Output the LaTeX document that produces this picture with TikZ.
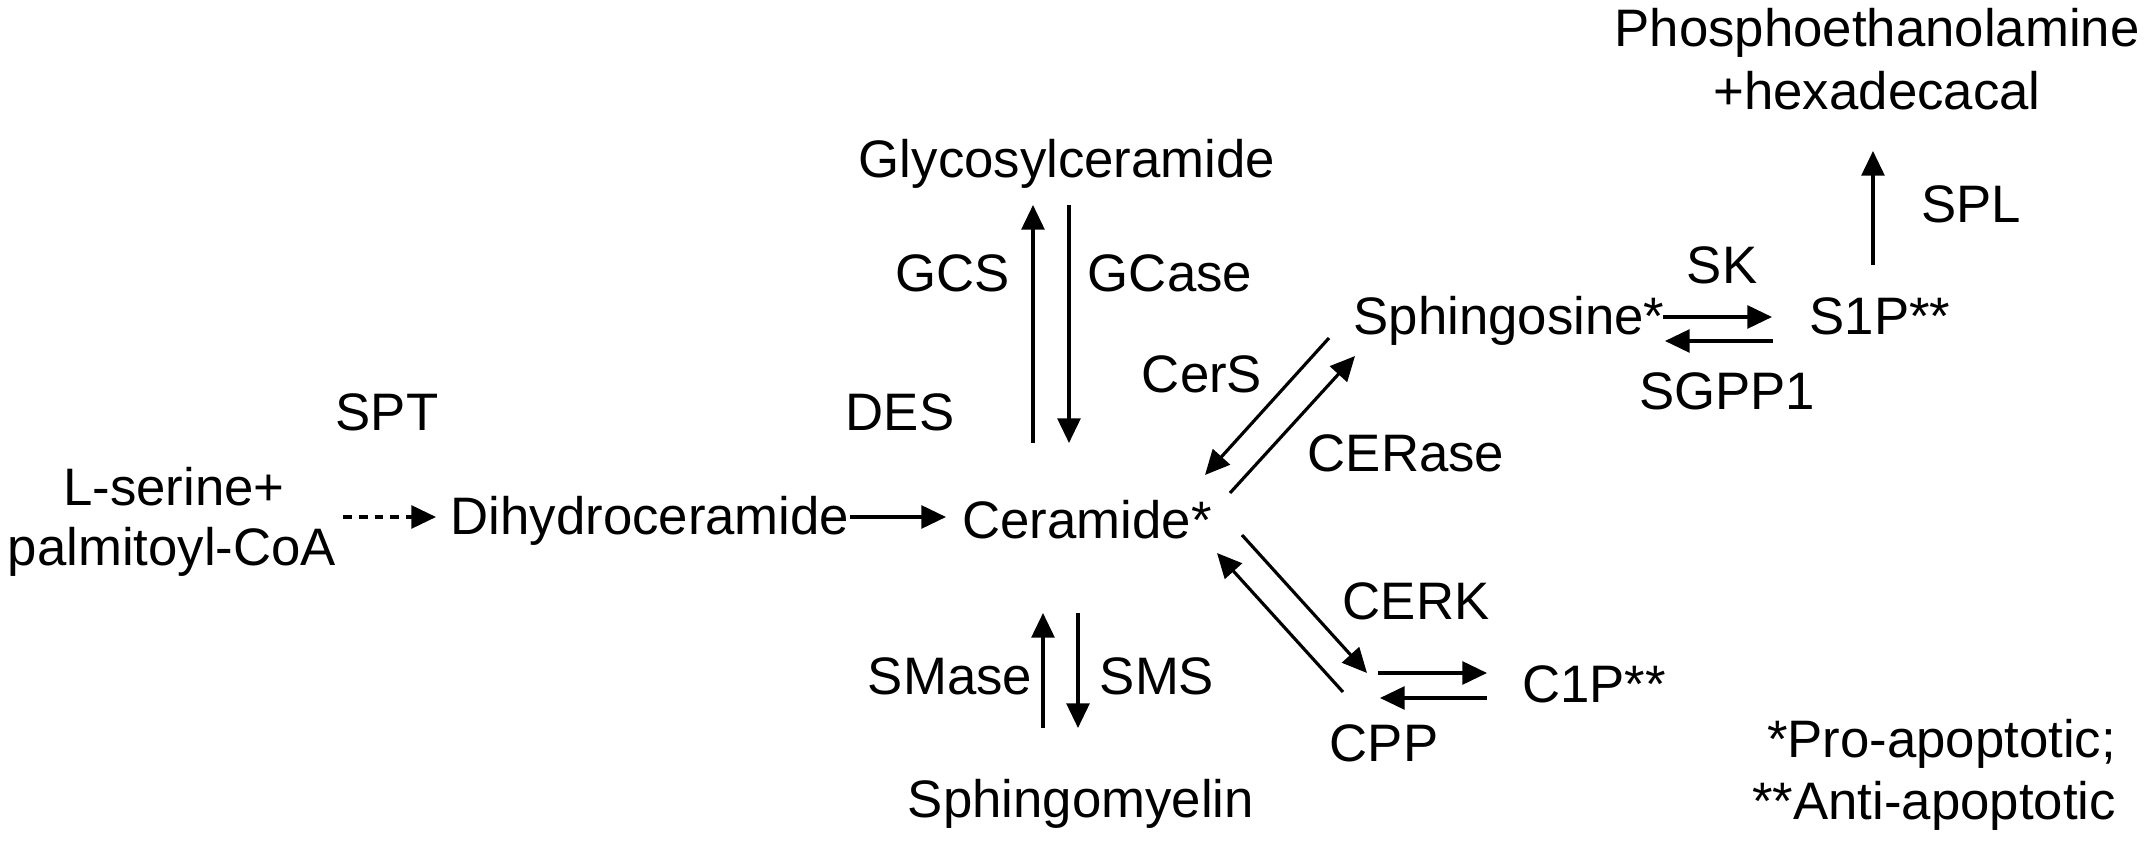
\documentclass[tikz,border=0pt]{standalone}
\usepackage{fontspec}
\setmainfont{Liberation Sans}
\usetikzlibrary{arrows.meta}
\tikzstyle{arrow} = [line width=0.9pt, -{Triangle[length=7pt, width=6.5pt]}]
\tikzstyle{dasharrow} = [arrow, dash pattern=on 2.5pt off 2pt]
\tikzstyle{metab} = [inner sep=0pt, outer sep=0pt, anchor=base, font=\fontsize{15}{18}\selectfont]
\tikzstyle{enzyme} = [metab]

\begin{document}
\begin{tikzpicture}[x=0.01cm, y=-0.01cm]
    \useasboundingbox (0,0) rectangle (2150,843);

    % de novo synthesis
    \node (ser) [metab] at (174,506) {L-serine+};
    \node (palm) [metab] at (172,566) {palmitoyl-CoA};
    \node (dhc) [metab] at (650,535) {Dihydroceramide};
    \node (cer) [metab] at (1087,539) {Ceramide*};
    \node (spt) [enzyme] at (387,431) {SPT};
    \node (des) [enzyme] at (900,431) {DES};

    % glycosylceramide branch
    \node (glyc) [metab] at (1067,178) {Glycosylceramide};
    \node (gcs) [enzyme] at (953,292) {GCS};
    \node (gcase) [enzyme] at (1170,292) {GCase};

    % sphingosine / S1P
    \node (sph) [metab] at (1509,335) {Sphingosine*};
    \node (s1p) [metab] at (1880,335) {S1P**};
    \node (phos) [metab] at (1877,47) {Phosphoethanolamine};
    \node (hexa) [metab] at (1877,110) {+hexadecacal};
    \node (cers) [enzyme] at (1202,393) {CerS};
    \node (cerase) [enzyme] at (1406,472) {CERase};
    \node (sk) [enzyme] at (1722,284) {SK};
    \node (sgpp) [enzyme] at (1727,410) {SGPP1};
    \node (spl) [enzyme] at (1971,223) {SPL};

    % C1P
    \node (c1p) [metab] at (1594,703) {C1P**};
    \node (cerk) [enzyme] at (1416,620) {CERK};
    \node (cpp) [enzyme] at (1384,762) {CPP};

    % sphingomyelin
    \node (smy) [metab] at (1081,818) {Sphingomyelin};
    \node (smase) [enzyme] at (950,695) {SMase};
    \node (sms) [enzyme] at (1157,695) {SMS};

    % legend
    \node (pro) [metab, anchor=base east] at (2116,758) {*Pro-apoptotic;};
    \node (anti) [metab, anchor=base east] at (2116,820) {**Anti-apoptotic};

    % reactions
    \draw [dasharrow] ([shift={(171,-49)}]palm.base) -- ([shift={(-214,-18)}]dhc.base);
    \draw [arrow] ([shift={(200,-18)}]dhc.base) -- ([shift={(-141,-22)}]cer.base);
    \draw [arrow] ([shift={(-54,-96)}]cer.base) -- ([shift={(-34,27)}]glyc.base);
    \draw [arrow] ([shift={(2,27)}]glyc.base) -- ([shift={(-18,-96)}]cer.base);
    \draw [arrow] ([shift={(-180,3)}]sph.base) -- ([shift={(118,-64)}]cer.base);
    \draw [arrow] ([shift={(143,-46)}]cer.base) -- ([shift={(-154,21)}]sph.base);
    \draw [arrow] ([shift={(154,-18)}]sph.base) -- ([shift={(-108,-18)}]s1p.base);
    \draw [arrow] ([shift={(-107,6)}]s1p.base) -- ([shift={(156,6)}]sph.base);
    \draw [arrow] ([shift={(-7,-70)}]s1p.base) -- ([shift={(-4,41)}]hexa.base);
    \draw [arrow] ([shift={(155,-4)}]cer.base) -- ([shift={(-227,-30)}]c1p.base);
    \draw [arrow] ([shift={(-251,-11)}]c1p.base) -- ([shift={(130,14)}]cer.base);
    \draw [arrow] ([shift={(-6,-89)}]cpp.base) -- ([shift={(-107,-30)}]c1p.base);
    \draw [arrow] ([shift={(-107,-5)}]c1p.base) -- ([shift={(-4,-64)}]cpp.base);
    \draw [arrow] ([shift={(-38,-90)}]smy.base) -- ([shift={(-44,74)}]cer.base);
    \draw [arrow] ([shift={(-9,74)}]cer.base) -- ([shift={(-3,-90)}]smy.base);
\end{tikzpicture}
\end{document}
